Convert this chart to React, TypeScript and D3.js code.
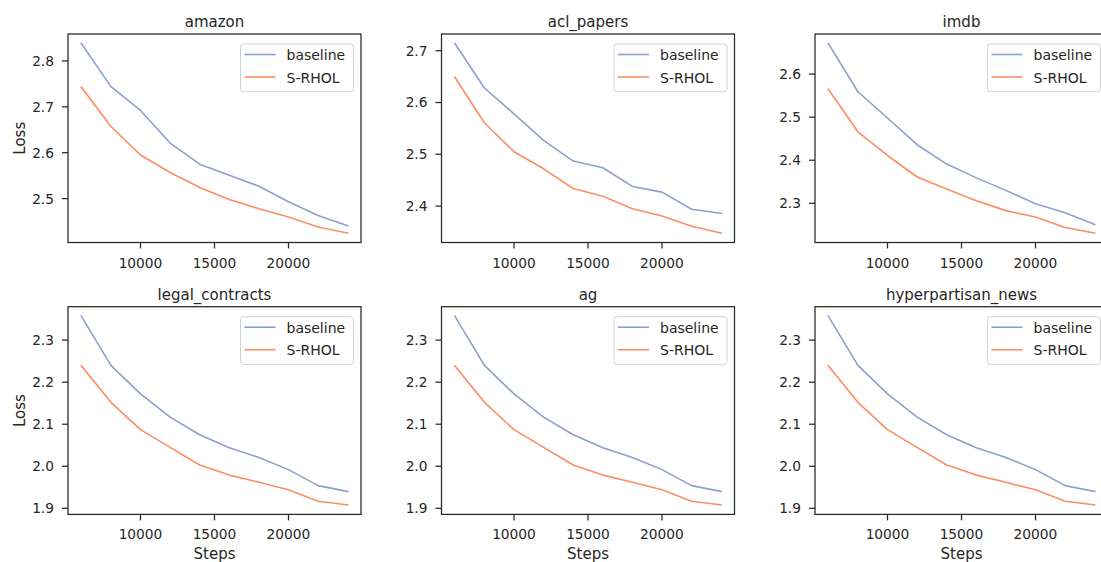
import React from "react";
import * as d3 from "d3";

const steps = [6000, 8000, 10000, 12000, 14000, 16000, 18000, 20000, 22000, 24000];

const amazonBaseline = [2.838, 2.744, 2.692, 2.621, 2.575, 2.551, 2.527, 2.493, 2.463, 2.441];
const amazonSRHOL = [2.743, 2.657, 2.595, 2.557, 2.524, 2.498, 2.478, 2.460, 2.438, 2.425];

const aclBaseline = [2.714, 2.628, 2.578, 2.527, 2.487, 2.474, 2.438, 2.427, 2.394, 2.386];
const aclSRHOL = [2.649, 2.561, 2.505, 2.472, 2.434, 2.419, 2.395, 2.381, 2.361, 2.348];

const imdbBaseline = [2.671, 2.559, 2.498, 2.436, 2.391, 2.359, 2.330, 2.299, 2.278, 2.251];
const imdbSRHOL = [2.565, 2.466, 2.411, 2.361, 2.333, 2.306, 2.283, 2.268, 2.244, 2.231];

const legalBaseline = [2.357, 2.240, 2.172, 2.117, 2.075, 2.044, 2.021, 1.992, 1.954, 1.940];
const legalSRHOL = [2.239, 2.152, 2.087, 2.045, 2.003, 1.979, 1.962, 1.944, 1.917, 1.908];

const agBaseline = [2.357, 2.240, 2.172, 2.117, 2.075, 2.044, 2.021, 1.992, 1.954, 1.940];
const agSRHOL = [2.239, 2.152, 2.087, 2.045, 2.003, 1.979, 1.962, 1.944, 1.917, 1.908];

const hyperBaseline = [2.357, 2.240, 2.172, 2.117, 2.075, 2.044, 2.021, 1.992, 1.954, 1.940];
const hyperSRHOL = [2.239, 2.152, 2.087, 2.045, 2.003, 1.979, 1.962, 1.944, 1.917, 1.908];

const xTicks = [10000, 15000, 20000];
const amazonYTicks = [2.5, 2.6, 2.7, 2.8];
const aclYTicks = [2.4, 2.5, 2.6, 2.7];
const imdbYTicks = [2.3, 2.4, 2.5, 2.6];
const bottomYTicks = [1.9, 2.0, 2.1, 2.2, 2.3];

const seriesNames = ["baseline", "S-RHOL"];
const seriesColors = ["#8da0cb", "#fc8d62"];

const panels = [
  { title: "amazon", base: amazonBaseline, rhol: amazonSRHOL, yTicks: amazonYTicks, row: 0, col: 0 },
  { title: "acl_papers", base: aclBaseline, rhol: aclSRHOL, yTicks: aclYTicks, row: 0, col: 1 },
  { title: "imdb", base: imdbBaseline, rhol: imdbSRHOL, yTicks: imdbYTicks, row: 0, col: 2 },
  { title: "legal_contracts", base: legalBaseline, rhol: legalSRHOL, yTicks: bottomYTicks, row: 1, col: 0 },
  { title: "ag", base: agBaseline, rhol: agSRHOL, yTicks: bottomYTicks, row: 1, col: 1 },
  { title: "hyperpartisan_news", base: hyperBaseline, rhol: hyperSRHOL, yTicks: bottomYTicks, row: 1, col: 2 },
];

const W = 1101;
const H = 562;
const colLefts = [68, 441.5, 815];
const rowTops = [34, 306.7];
const rowBottoms = [242.5, 514.4];
const axW = 293;
const ink = "#262626";
const font = "DejaVu Sans, sans-serif";

function Panel({ p }: { p: (typeof panels)[number] }) {
  const left = colLefts[p.col];
  const top = rowTops[p.row];
  const axH = rowBottoms[p.row] - top;
  const xExt = d3.extent(steps) as [number, number];
  const xPad = (xExt[1] - xExt[0]) * 0.05;
  const x = d3.scaleLinear().domain([xExt[0] - xPad, xExt[1] + xPad]).range([left, left + axW]);
  const all = [...p.base, ...p.rhol];
  const yMin = d3.min(all)!;
  const yMax = d3.max(all)!;
  const yPad = (yMax - yMin) * 0.05;
  const y = d3.scaleLinear().domain([yMin - yPad, yMax + yPad]).range([top + axH, top]);
  const line = d3
    .line<number>()
    .x((_, i) => x(steps[i]))
    .y((d) => y(d));
  const clipId = `clip-${p.row}-${p.col}`;
  const legW = 113;
  const legH = 47.7;
  const legX = left + axW - 7.5 - legW;
  const legY = top + 10;
  return (
    <g>
      <defs>
        <clipPath id={clipId}>
          <rect x={left} y={top} width={axW} height={axH} />
        </clipPath>
      </defs>
      <g clipPath={`url(#${clipId})`}>
        {[p.base, p.rhol].map((s, i) => (
          <path key={i} d={line(s) || ""} fill="none" stroke={seriesColors[i]} strokeWidth={1.6} strokeLinejoin="round" strokeLinecap="square" />
        ))}
      </g>
      <rect x={left} y={top} width={axW} height={axH} fill="none" stroke={ink} strokeWidth={1.25} />
      {xTicks.map((t) => (
        <g key={t}>
          <line x1={x(t)} x2={x(t)} y1={top + axH} y2={top + axH + 6} stroke={ink} strokeWidth={1.25} />
          <text x={x(t)} y={top + axH + 25} textAnchor="middle" fontSize={13.75} fill={ink} fontFamily={font}>
            {t}
          </text>
        </g>
      ))}
      {p.yTicks.map((t) => (
        <g key={t}>
          <line x1={left - 6} x2={left} y1={y(t)} y2={y(t)} stroke={ink} strokeWidth={1.25} />
          <text x={left - 14} y={y(t)} dy="0.36em" textAnchor="end" fontSize={13.75} fill={ink} fontFamily={font}>
            {t.toFixed(1)}
          </text>
        </g>
      ))}
      <text x={left + axW / 2} y={top - 7} textAnchor="middle" fontSize={15} fill={ink} fontFamily={font}>
        {p.title}
      </text>
      {p.col === 0 && (
        <text
          transform={`translate(25,${top + axH / 2}) rotate(-90)`}
          textAnchor="middle"
          fontSize={15}
          fill={ink}
          fontFamily={font}
        >
          Loss
        </text>
      )}
      {p.row === 1 && (
        <text x={left + axW / 2} y={559} textAnchor="middle" fontSize={15} fill={ink} fontFamily={font}>
          Steps
        </text>
      )}
      <rect x={legX} y={legY} width={legW} height={legH} rx={3} fill="white" fillOpacity={0.8} stroke="#d0d0d0" strokeWidth={1} />
      {seriesNames.map((n, i) => {
        const ly = legY + 10.5 + i * 22.5;
        return (
          <g key={n}>
            <line x1={legX + 4} x2={legX + 35} y1={ly} y2={ly} stroke={seriesColors[i]} strokeWidth={1.6} />
            <text x={legX + 46} y={ly} dy="0.4em" fontSize={14} fill={ink} fontFamily={font}>
              {n}
            </text>
          </g>
        );
      })}
    </g>
  );
}

export default function App() {
  return (
    <svg
      width={W}
      height={H}
      viewBox={`0 0 ${W} ${H}`}
      style={{ position: "absolute", left: 0, top: 0, background: "white", overflow: "hidden" }}
    >
      <rect x={0} y={0} width={W} height={H} fill="white" />
      {panels.map((p) => (
        <Panel key={p.title} p={p} />
      ))}
    </svg>
  );
}
